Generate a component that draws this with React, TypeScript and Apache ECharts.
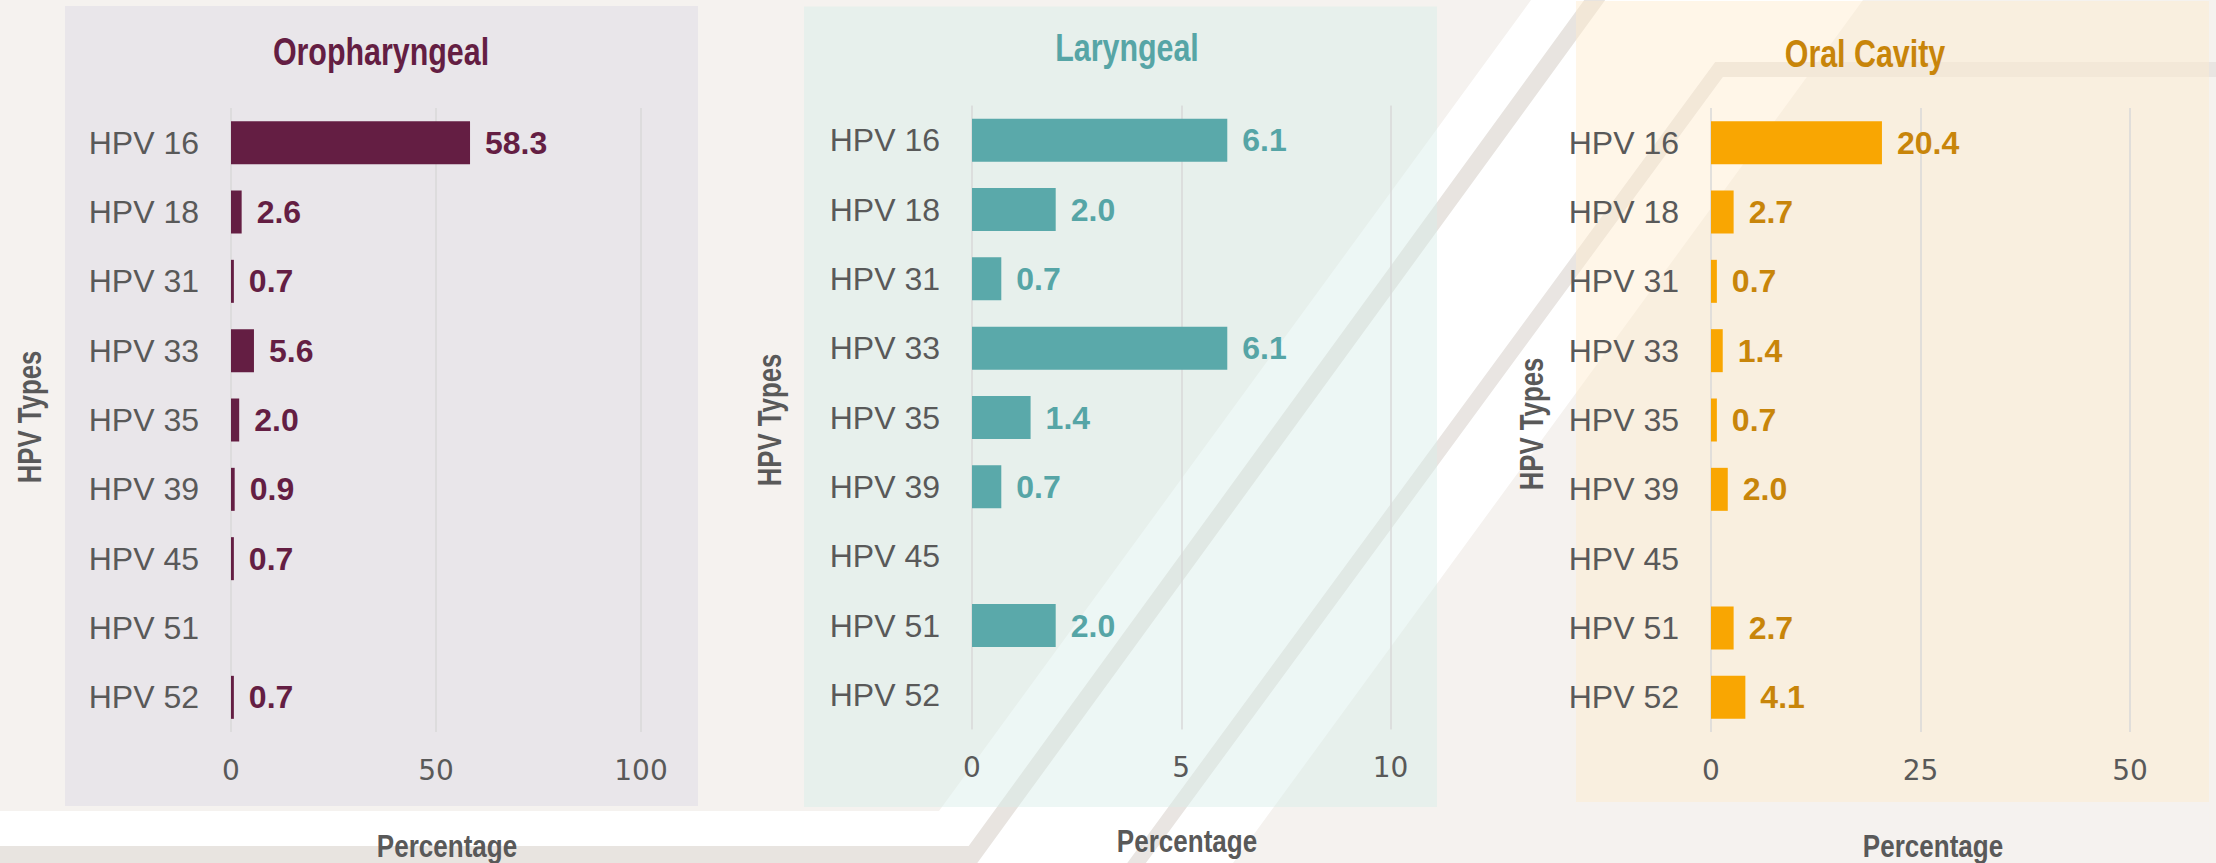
import React, { useEffect, useRef } from "react";
import * as echarts from "echarts";

const categories = ["HPV 16", "HPV 18", "HPV 31", "HPV 33", "HPV 35", "HPV 39", "HPV 45", "HPV 51", "HPV 52"];
const oropharyngeal = [58.3, 2.6, 0.7, 5.6, 2.0, 0.9, 0.7, null, 0.7];
const laryngeal = [6.1, 2.0, 0.7, 6.1, 1.4, 0.7, null, 2.0, null];
const oralCavity = [20.4, 2.7, 0.7, 1.4, 0.7, 2.0, null, 2.7, 4.1];
const panelTitles = ["Oropharyngeal", "Laryngeal", "Oral Cavity"];
const axisMax = [100, 10, 50];
const axisInterval = [50, 5, 25];
const yAxisTitle = "HPV Types";
const xAxisTitle = "Percentage";

const SANS = "'Liberation Sans', Arial, sans-serif";
const WIDE = "'DejaVu Sans', sans-serif";

const barColors = ["#641e43", "#5aa9aa", "#f9a602"];
const labelColors = ["#641e43", "#56a5a6", "#c8850a"];
const grids = [
  { left: 231, top: 108, width: 410, height: 624 },
  { left: 972, top: 105.5, width: 418.5, height: 624 },
  { left: 1711, top: 108, width: 419, height: 624 },
];
const titlePos = [
  [381, 52],
  [1127, 48],
  [1865, 54],
];
const yTitlePos = [
  [29, 417],
  [769, 420],
  [1531, 424],
];
const xTitlePos = [
  [447, 846],
  [1187, 841],
  [1933, 846],
];

export default function App() {
  const ref = useRef<HTMLDivElement>(null);
  useEffect(() => {
    document.body.style.margin = "0";
    if (!ref.current) return;
    const chart = echarts.init(ref.current, undefined, { renderer: "svg" });
    const data = [oropharyngeal, laryngeal, oralCavity];
    const S = 0.73;
    const graphic: any[] = [
      { type: "rect", z: 0, shape: { x: 0, y: 0, width: 2216, height: 863 }, style: { fill: "#f5f2ef" } },
      {
        type: "polygon",
        z: 0,
        shape: {
          points: [
            [0, 811],
            [939, 811],
            [939 + 811 * S, 0],
            [1233 + 863 * S, 0],
            [1233, 863],
            [0, 863],
          ],
        },
        style: { fill: "#ffffff" },
      },
      {
        type: "polyline",
        z: 0,
        shape: {
          points: [
            [-20, 854.5],
            [973, 854.5],
            [973 + 874 * 0.728, -20],
          ],
        },
        style: { stroke: "#e8e4e0", lineWidth: 17, fill: null, lineJoin: "miter" },
      },
      {
        type: "polyline",
        z: 0,
        shape: {
          points: [
            [1719 - 813.5 * 0.734, 883],
            [1719, 69.5],
            [2240, 69.5],
          ],
        },
        style: { stroke: "#e9e5e2", lineWidth: 15, fill: null, lineJoin: "miter" },
      },
      { type: "rect", z: 0, shape: { x: 65, y: 6, width: 633, height: 800 }, style: { fill: "#e9e6ea" } },
      { type: "rect", z: 0, shape: { x: 804, y: 6.5, width: 633, height: 800.5 }, style: { fill: "rgba(216,237,233,0.45)" } },
      { type: "rect", z: 0, shape: { x: 1576, y: 1, width: 633, height: 801 }, style: { fill: "rgba(255,236,204,0.45)" } },
    ];
    for (let i = 0; i < 3; i++) {
      graphic.push({
        type: "text",
        z: 5,
        x: titlePos[i][0],
        y: titlePos[i][1],
        scaleX: 0.8,
        style: {
          text: panelTitles[i],
          fill: labelColors[i],
          fontSize: 38,
          fontWeight: "bold",
          fontFamily: SANS,
          align: "center",
          verticalAlign: "middle",
        },
      });
      graphic.push({
        type: "text",
        z: 5,
        x: yTitlePos[i][0],
        y: yTitlePos[i][1],
        rotation: Math.PI / 2,
        scaleX: 0.78,
        style: {
          text: yAxisTitle,
          fill: "#595959",
          fontSize: 33,
          fontWeight: "bold",
          fontFamily: SANS,
          align: "center",
          verticalAlign: "middle",
        },
      });
      graphic.push({
        type: "text",
        z: 5,
        x: xTitlePos[i][0],
        y: xTitlePos[i][1],
        scaleX: 0.84,
        style: {
          text: xAxisTitle,
          fill: "#595959",
          fontSize: 31,
          fontWeight: "bold",
          fontFamily: SANS,
          align: "center",
          verticalAlign: "middle",
        },
      });
    }

    const option: any = {
      animation: false,
      graphic,
      grid: grids.map((g) => ({ ...g, containLabel: false })),
      xAxis: [0, 1, 2].map((i) => ({
        type: "value",
        gridIndex: i,
        min: 0,
        max: axisMax[i],
        interval: axisInterval[i],
        z: 1,
        axisLine: { show: false },
        axisTick: { show: false },
        splitLine: { show: true, lineStyle: { color: "#d9d9d9", width: 1.5 } },
        axisLabel: { color: "#595959", fontSize: 28, fontFamily: WIDE, margin: 24 },
      })),
      yAxis: [0, 1, 2].map((i) => ({
        type: "category",
        gridIndex: i,
        data: categories,
        inverse: true,
        z: 1,
        axisLine: { show: false },
        axisTick: { show: false },
        splitLine: { show: false },
        axisLabel: { color: "#595959", fontSize: 32, fontFamily: SANS, margin: 32 },
      })),
      series: [0, 1, 2].map((i) => ({
        type: "bar",
        name: panelTitles[i],
        xAxisIndex: i,
        yAxisIndex: i,
        z: 2,
        data: data[i],
        barWidth: 43,
        itemStyle: { color: barColors[i] },
        label: {
          show: true,
          position: "right",
          distance: 15,
          color: labelColors[i],
          fontSize: 32,
          fontWeight: "bold",
          fontFamily: SANS,
          formatter: (p: any) => (p.value == null ? "" : Number(p.value).toFixed(1)),
        },
      })),
    };
    chart.setOption(option);
    return () => chart.dispose();
  }, []);
  return <div ref={ref} style={{ width: 2216, height: 863 }} />;
}
